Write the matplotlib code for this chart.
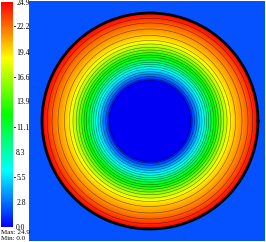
import matplotlib
matplotlib.use("Agg")
import matplotlib.pyplot as plt
import numpy as np
from matplotlib.colors import LinearSegmentedColormap, Normalize
from matplotlib.cm import ScalarMappable

# --- Data ---
# radial position (px from centre) of each contour line, hole edge to outer wall
radius_px = [40.5, 42, 44.3, 47, 49.3, 52, 54.3, 56.7, 58.7, 61, 63.7, 66, 68.3,
             71, 73.7, 77, 80.5, 85.5, 92, 98, 102.7, 108]
values = [0.0, 1.19, 2.37, 3.56, 4.74, 5.93, 7.11, 8.30, 9.49, 10.67, 11.86,
          13.04, 14.23, 15.41, 16.60, 17.79, 18.97, 20.16, 21.34, 22.53, 23.71, 24.9]
tick_values = [0.0, 2.8, 5.5, 8.3, 11.1, 13.9, 16.6, 19.4, 22.2, 24.9]
tick_labels = ["0.0", "2.8", "5.5", "8.3", "11.1", "13.9", "16.6", "19.4", "22.2", "24.9"]
dash_ticks = [5.5, 11.1, 16.6, 22.2]
v_min, v_max = 0.0, 24.9
contour_levels = values[1:-1]

W, H = 266, 242
cx, cy = 150, 121
bg_blue = (0.02, 0.32, 1.0)
hole_blue = (0.0, 0.0, 0.96)

cmap = LinearSegmentedColormap.from_list(
    "rainbow5", ["#0000ff", "#00ffff", "#00ff00", "#ffff00", "#ff0000"])
norm = Normalize(v_min, v_max)

fig = plt.figure(figsize=(W / 100, H / 100), dpi=100)
fig.patch.set_facecolor("white")

# --- main field ---
ax = fig.add_axes([29 / W, 1 / H, 236 / W, 240 / H])
ax.set_xlim(29, 265)
ax.set_ylim(241, 1)
ax.set_axis_off()

xs = np.linspace(29, 265, 600)
ys = np.linspace(1, 241, 610)
X, Y = np.meshgrid(xs, ys)
R = np.hypot(X - cx, Y - cy)
field = np.interp(R, radius_px, values)

rgba = cmap(norm(field))
rgba[R > radius_px[-1]] = (*bg_blue, 1)
rgba[R < radius_px[0]] = (*hole_blue, 1)
ax.imshow(rgba, extent=(29, 265, 241, 1), interpolation="bilinear", aspect="auto")

masked = np.ma.masked_where((R > radius_px[-1]) | (R < radius_px[0]), field)
ax.contour(X, Y, masked, levels=contour_levels, colors="black",
           linewidths=0.4, alpha=0.55)

t = np.linspace(0, 2 * np.pi, 400)
ax.plot(cx + radius_px[-1] * np.cos(t), cy + radius_px[-1] * np.sin(t),
        color="black", lw=2.0)
ax.plot(cx + radius_px[0] * np.cos(t), cy + radius_px[0] * np.sin(t),
        color="#000060", lw=0.6, alpha=0.6)

# --- colour bar ---
cax = fig.add_axes([1 / W, (H - 227) / H, 12 / W, 225 / H])
cb = fig.colorbar(ScalarMappable(norm=norm, cmap=cmap), cax=cax)
cb.outline.set_visible(False)
cax.set_yticks(tick_values)
cax.set_yticklabels(tick_labels)
cax.tick_params(axis="y", length=0, pad=2.3, labelsize=5.5)
for lab in cax.get_yticklabels():
    lab.set_family("Liberation Serif")
for v in dash_ticks:
    cax.plot([1.05, 1.2], [v, v], color="black", lw=0.6,
             transform=cax.get_yaxis_transform(), clip_on=False)

fig.text(1 / W, 1 - 233 / H, "Max: 24.9", fontsize=5, family="Liberation Serif",
         va="center", ha="left")
fig.text(1 / W, 1 - 238.5 / H, "Min: 0.0", fontsize=5, family="Liberation Serif",
         va="center", ha="left")

fig.savefig("out.png", dpi=100)
